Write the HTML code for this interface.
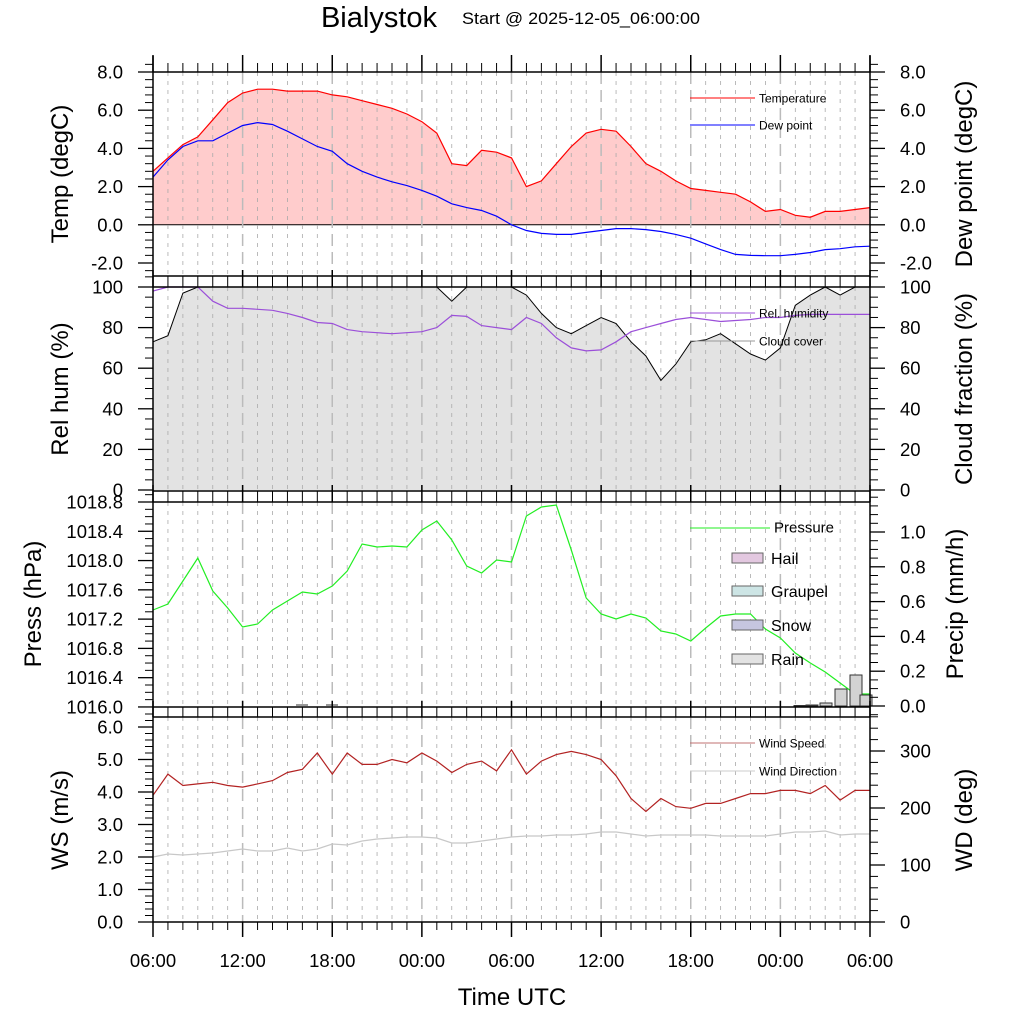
<!DOCTYPE html>
<html><head><meta charset="utf-8"><style>
html,body{margin:0;padding:0;background:#fff;}
svg{display:block;font-family:"Liberation Sans",sans-serif;}
</style></head><body>
<svg id="s" width="1024" height="1024" xmlns="http://www.w3.org/2000/svg">
<text x="379" y="27" font-size="29" text-anchor="middle">Bialystok</text>
<text x="462" y="24" font-size="17" textLength="238" lengthAdjust="spacingAndGlyphs">Start @ 2025-12-05_06:00:00</text>
</svg>
<script>
const S=document.getElementById('s'),NS='http://www.w3.org/2000/svg';
function el(t,a,txt){const e=document.createElementNS(NS,t);for(const k in a)e.setAttribute(k,a[k]);if(txt!==undefined)e.textContent=txt;S.appendChild(e);return e;}
const X0=153,X1=870,dx=(X1-X0)/48;const X=i=>X0+dx*i;
function pts(vals,fy){return vals.map((v,i)=>X(i).toFixed(1)+','+fy(v).toFixed(1)).join(' ');}
const P=[[72,276],[287,491],[502,707],[717,922]];
const T=[2.8,3.5,4.2,4.6,5.5,6.4,6.9,7.1,7.1,7.0,7.0,7.0,6.8,6.7,6.5,6.3,6.1,5.8,5.4,4.8,3.2,3.1,3.9,3.8,3.5,2.0,2.3,3.2,4.1,4.8,5.0,4.9,4.1,3.2,2.8,2.3,1.9,1.8,1.7,1.6,1.2,0.7,0.8,0.5,0.4,0.7,0.7,0.8,0.9];
const D=[2.5,3.4,4.1,4.4,4.4,4.8,5.2,5.35,5.25,4.9,4.5,4.1,3.85,3.2,2.8,2.5,2.25,2.05,1.8,1.5,1.1,0.9,0.75,0.45,0.0,-0.3,-0.45,-0.5,-0.5,-0.4,-0.3,-0.2,-0.2,-0.25,-0.35,-0.5,-0.7,-1.0,-1.3,-1.55,-1.6,-1.62,-1.62,-1.55,-1.45,-1.3,-1.25,-1.15,-1.12];
const fT=v=>72+(8-v)*19.1;
el('polygon',{points:X0+','+fT(0)+' '+pts(T,fT)+' '+X1+','+fT(0),fill:'#ffcccc'});
el('line',{x1:X0,x2:X1,y1:fT(0),y2:fT(0),stroke:'#000','stroke-width':1});
const RH=[98,100,100,100,93,89.5,89.5,89,88.5,87,85,82.5,82,79,78,77.5,77,77.5,78,80,86,85.5,81,80,79,85,82,75,70,68.5,69,73,78,80,82,84,85,84,83,83.5,84,85,85,86,86.5,86.5,86.5,86.5,86.5];
const CC=[73,76,97,100];for(let i=4;i<20;i++)CC.push(100);CC.push(93,100,100,100,100,96,87,80,77,81,85,82,73,66,54,62,73,74,77,72,67,64,70,91,96,100,96,100,100);
const fR=v=>490-v*2.03;
el('polygon',{points:X0+','+fR(0)+' '+pts(CC,fR)+' '+X1+','+fR(0),fill:'#e3e3e3'});
for(let i=1;i<48;i++){const maj=i%6==0;for(const [a,b] of P){el('line',{x1:X(i),x2:X(i),y1:a,y2:b,stroke:maj?'#bbb':'#aaa','stroke-width':maj?1.5:0.8,'stroke-dasharray':maj?'12,6':'4,5'});}}
el('polyline',{points:pts(T,fT),fill:'none',stroke:'#f00','stroke-width':1.2});
el('polyline',{points:pts(D,fT),fill:'none',stroke:'#00f','stroke-width':1.2});
el('polyline',{points:pts(CC,fR),fill:'none',stroke:'#000','stroke-width':1});
el('polyline',{points:pts(RH,fR),fill:'none',stroke:'#9b4fd9','stroke-width':1.2});
const PY=[610,604,581,558,591,608,627,624,610,601,592,594,586,571,544,547,546,547,530,521,540,566,573,560,562,516,507,505,550,598,614,619,614,618,631,634,641,628,616,614,614,629,638,653,663,672,683,694,694];
el('polyline',{points:PY.map((y,i)=>X(i).toFixed(1)+','+y).join(' '),fill:'none',stroke:'#22ee22','stroke-width':1.2});
[[800,0.5],[812,1],[826,3],[841,17],[856,31],[866,11]].forEach(([x,h])=>{el('rect',{x:x-6,y:706-h,width:12,height:h,fill:'#d3d3d3',stroke:'#333','stroke-width':1});});
el('rect',{x:296,y:704.5,width:12,height:1,fill:'#333'});el('rect',{x:326,y:704.5,width:12,height:1,fill:'#333'});
const WS=[3.9,4.55,4.2,4.25,4.3,4.2,4.15,4.25,4.35,4.6,4.7,5.2,4.55,5.2,4.85,4.85,5.0,4.9,5.2,4.95,4.6,4.85,4.95,4.65,5.3,4.55,4.95,5.15,5.25,5.15,5.0,4.5,3.8,3.4,3.8,3.55,3.5,3.65,3.65,3.8,3.95,3.95,4.05,4.05,3.95,4.2,3.75,4.05,4.05];
const fW=v=>922-v*32.5;
const WD=[857,854,855,854,853,851,849,851,851,848,851,849,844,845,841,839,838,837,837,838,843,843,841,839,837,836,836,835,835,834,832,832,834,836,835,835,835,835,836,836,836,836,834,832,832,831,835,834,834];
el('polyline',{points:WD.map((y,i)=>X(i).toFixed(1)+','+y).join(' '),fill:'none',stroke:'#c8c8c8','stroke-width':1.2});
el('polyline',{points:pts(WS,fW),fill:'none',stroke:'#b22222','stroke-width':1.2});
P.forEach(([a,b])=>{el('line',{x1:X0,x2:X1,y1:a,y2:a,stroke:'#000','stroke-width':1.5});el('line',{x1:X0,x2:X1,y1:b,y2:b,stroke:'#000','stroke-width':1.5});});
el('line',{x1:X0,x2:X0,y1:56,y2:922,stroke:'#000','stroke-width':1.5});
el('line',{x1:X1,x2:X1,y1:56,y2:922,stroke:'#000','stroke-width':1.5});
for(let i=0;i<=48;i++){const maj=i%6==0;const x=X(i);
 el('line',{x1:x,x2:x,y1:maj?55:63,y2:72,stroke:'#000','stroke-width':maj?1.5:1});
 el('line',{x1:x,x2:x,y1:maj?270:276,y2:287,stroke:'#000','stroke-width':maj?1.5:1});
 el('line',{x1:x,x2:x,y1:maj?485:491,y2:502,stroke:'#000','stroke-width':maj?1.5:1});
 el('line',{x1:x,x2:x,y1:maj?701:707,y2:717,stroke:'#000','stroke-width':maj?1.5:1});
 el('line',{x1:x,x2:x,y1:922,y2:maj?937:930,stroke:'#000','stroke-width':maj?1.5:1});
}
function yax(side,top,bot,majors,labels,minorN){const x=side?X1:X0,s=side?1:-1;
 for(let k=0;k<majors.length;k++){const y=majors[k];el('line',{x1:x,x2:x+s*15,y1:y,y2:y,stroke:'#000','stroke-width':1.3});
  el('text',{x:side?900:123,y:y+6.5,'font-size':18.5,'text-anchor':side?'start':'end'},labels[k]);
  if(k<majors.length-1){const st=(majors[k+1]-y)/minorN;for(let m=1;m<minorN;m++){const yy=y+st*m;el('line',{x1:x,x2:x+s*8,y1:yy,y2:yy,stroke:'#000','stroke-width':1});}}}
 const st=(majors[1]-majors[0])/minorN;for(let yy=majors[0]-st;yy>top+0.5;yy-=st)el('line',{x1:x,x2:x+s*8,y1:yy,y2:yy,stroke:'#000','stroke-width':1});
 for(let yy=majors[majors.length-1]+st;yy<bot-0.5;yy+=st)el('line',{x1:x,x2:x+s*8,y1:yy,y2:yy,stroke:'#000','stroke-width':1});
}
const tv=[8,6,4,2,0,-2],tl=['8.0','6.0','4.0','2.0','0.0','-2.0'];
yax(0,58,276,tv.map(fT),tl,5);yax(1,58,276,tv.map(fT),tl,5);
const rv=[100,80,60,40,20,0];yax(0,276,491,rv.map(fR),rv.map(String),4);yax(1,276,491,rv.map(fR),rv.map(String),4);
const pv=[1018.8,1018.4,1018.0,1017.6,1017.2,1016.8,1016.4,1016.0];
yax(0,491,707,pv.map(p=>502+(1018.8-p)*73.2),pv.map(p=>p.toFixed(1)),4);
const qv=[1.0,0.8,0.6,0.4,0.2,0.0];yax(1,491,717,qv.map(q=>706-q*174),qv.map(q=>q.toFixed(1)),4);
const wv=[6,5,4,3,2,1,0];yax(0,707,922,wv.map(fW),wv.map(v=>v.toFixed(1)),5);
const dv=[300,200,100,0];yax(1,707,922,dv.map(d=>922-d*0.57),dv.map(String),5);
function vt(x,y,t){el('text',{x:x,y:y,'font-size':24,'text-anchor':'middle',transform:`rotate(-90 ${x} ${y})`},t);}
vt(68,174,'Temp (degC)');vt(972,174,'Dew point (degC)');
vt(68,389,'Rel hum (%)');vt(972,389,'Cloud fraction (%)');
vt(41,604,'Press (hPa)');vt(963,604,'Precip (mm/h)');
vt(68,820,'WS (m/s)');vt(972,820,'WD (deg)');
['06:00','12:00','18:00','00:00','06:00','12:00','18:00','00:00','06:00'].forEach((t,k)=>el('text',{x:X(k*6),y:967,'font-size':18.5,'text-anchor':'middle'},t));
el('text',{x:512,y:1005,'font-size':24,'text-anchor':'middle'},'Time UTC');
function lg(y,c,t,fs,x2){el('line',{x1:690,x2:x2||755,y1:y,y2:y,stroke:c,'stroke-width':1});el('text',{x:(x2||755)+4,y:y+4.5,'font-size':fs},t);}
lg(98,'#f00','Temperature',12);lg(125,'#00f','Dew point',12);
lg(313,'#9b4fd9','Rel. humidity',12);lg(341,'#999','Cloud cover',12);
lg(528,'#22ee22','Pressure',15,770);
[['Hail',558,'#e3c8e0'],['Graupel',591,'#cde5e5'],['Snow',625,'#c6c6e0'],['Rain',659,'#e3e3e3']].forEach(([t,y,c])=>{el('rect',{x:732,y:y-5,width:31,height:10,fill:c,stroke:'#666','stroke-width':1});el('text',{x:771,y:y+6,'font-size':16},t);});
lg(743,'#c07070','Wind Speed',12);lg(771,'#ccc','Wind Direction',12);
</script>
</body></html>
